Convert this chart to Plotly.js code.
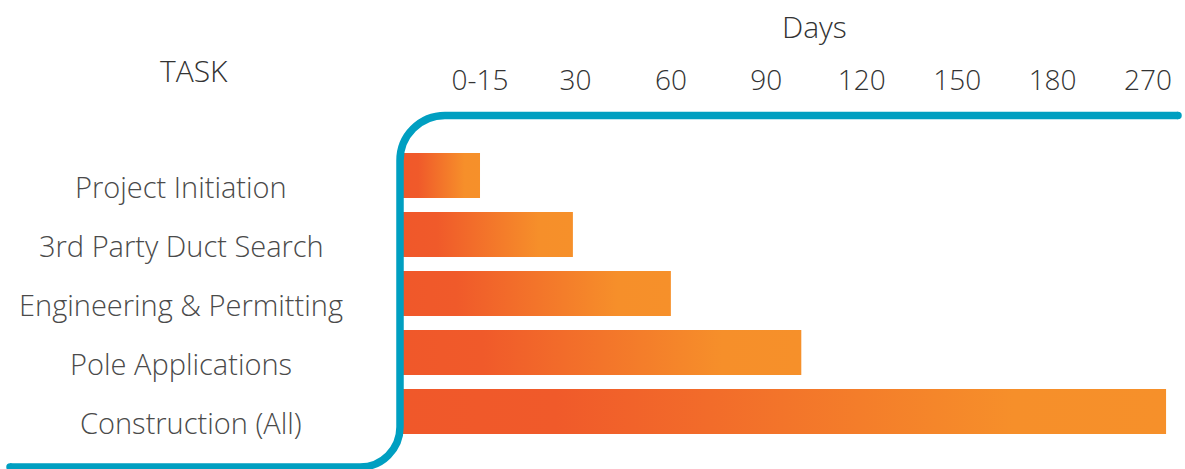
<!DOCTYPE html>
<html><head><meta charset="utf-8">
<script src="https://cdn.plot.ly/plotly-3.0.1.min.js"></script>
<style>html,body{margin:0;padding:0;background:#fff;}#chart{width:1185px;height:469px;}</style>
</head><body><div id="chart"></div>
<script>
// ---- data ----
const tasks = ['Project Initiation','3rd Party Duct Search','Engineering & Permitting','Pole Applications','Construction (All)'];
const durationDays = [15, 29.6, 60, 101, 287];
const tickDays = [15, 30, 60, 90, 120, 150, 180, 270];
const tickLabels = ['0-15','30','60','90','120','150','180','270'];

// ---- layout geometry ----
const W = 1185, H = 469, M = {l:403, r:5, t:146, b:28};
const X0 = 0.193;            // axis position of day 0 (plot left edge)
const XR = [X0, 8.335];
const HALF = 0.38;           // half bar thickness in category units
const FONT = 'Open Sans, Lato, sans-serif';

// ordinal day scale: each tick label occupies one equal slot
function dayPos(d){
  const pts = [[0, X0]].concat(tickDays.map((t,i)=>[t, i+1]));
  for (let i=1;i<pts.length;i++){
    if (d <= pts[i][0]){
      const [a,pa]=pts[i-1], [b,pb]=pts[i];
      return pa + (d-a)/(b-a)*(pb-pa);
    }
  }
  const [a,pa]=pts[pts.length-2], [b,pb]=pts[pts.length-1];
  return pb + (d-b)/(b-a)*(pb-pa);
}
const px = X => (X - M.l)/(W - M.l - M.r);
const py = Y => (H - M.b - Y)/(H - M.t - M.b);

const traces = tasks.map((t,i)=>{
  const e = dayPos(durationDays[i]);
  return {
    type:'scatter', mode:'lines', name:t,
    x:[X0, e, e, X0, X0],
    y:[i-HALF, i-HALF, i+HALF, i+HALF, i-HALF],
    fill:'toself', line:{width:0},
    fillgradient:{type:'horizontal', colorscale:[[0,'#F0582A'],[0.2,'#F05A2A'],[0.8,'#F68F2A'],[1,'#F6902A']]},
    hoverinfo:'skip', showlegend:false
  };
});

function P(X,Y){ return px(X).toFixed(5)+','+py(Y).toFixed(5); }
const k = 0.5523, rT = 45, rB = 40, lx = 400, ty = 115.5, by = 467;
const path = 'M'+P(1178,ty)+' L'+P(lx+rT,ty)+
  ' C'+P(lx+rT-rT*k,ty)+' '+P(lx,ty+rT-rT*k)+' '+P(lx,ty+rT)+
  ' L'+P(lx,by-rB)+
  ' C'+P(lx,by-rB+rB*k)+' '+P(lx-rB+rB*k,by)+' '+P(lx-rB,by)+
  ' L'+P(10,by);
const teal = '#009FC1', lw = 7.5;
function cap(X,Y){ return {type:'circle', xref:'paper', yref:'paper', x0:px(X-lw/2), x1:px(X+lw/2), y0:py(Y+lw/2), y1:py(Y-lw/2), fillcolor:teal, line:{width:0}, layer:'above'}; }
const shapes = [
  {type:'path', xref:'paper', yref:'paper', path:path, line:{color:teal, width:lw}, layer:'above'},
  cap(1178,ty), cap(10,by)
];

const labelShift = [0,0,0,0,10];
const annotations = tasks.map((t,i)=>({
  text:t, xref:'paper', yref:'y', x:px(181), y:i, yshift:-11, xshift:labelShift[i],
  xanchor:'center', yanchor:'middle', showarrow:false,
  font:{family:FONT, size:29, color:'#4a4a4a', weight:300}
}));
annotations.push({text:'TASK', xref:'paper', yref:'paper', x:px(194), y:py(70), xanchor:'center', yanchor:'middle', showarrow:false, font:{family:FONT, size:30, color:'#333', weight:300}});
annotations.push({text:'Days', xref:'paper', yref:'paper', x:px(814), y:py(27), xanchor:'center', yanchor:'middle', showarrow:false, font:{family:FONT, size:30, color:'#333', weight:300}});

const layout = {
  width:W, height:H, margin:M, paper_bgcolor:'#fff', plot_bgcolor:'#fff',
  showlegend:false,
  xaxis:{range:XR, side:'top', tickmode:'array', tickvals:tickDays.map(dayPos), ticktext:tickLabels,
         showgrid:false, zeroline:false, showline:false, ticks:'', ticklabelstandoff:49,
         tickfont:{family:FONT, size:28, color:'#333', weight:300}, fixedrange:true},
  yaxis:{range:[4.5,-0.5], showgrid:false, zeroline:false, showline:false, showticklabels:false, ticks:'', fixedrange:true},
  shapes:shapes, annotations:annotations
};
Plotly.newPlot('chart', traces, layout, {displayModeBar:false, staticPlot:true});
</script></body></html>
